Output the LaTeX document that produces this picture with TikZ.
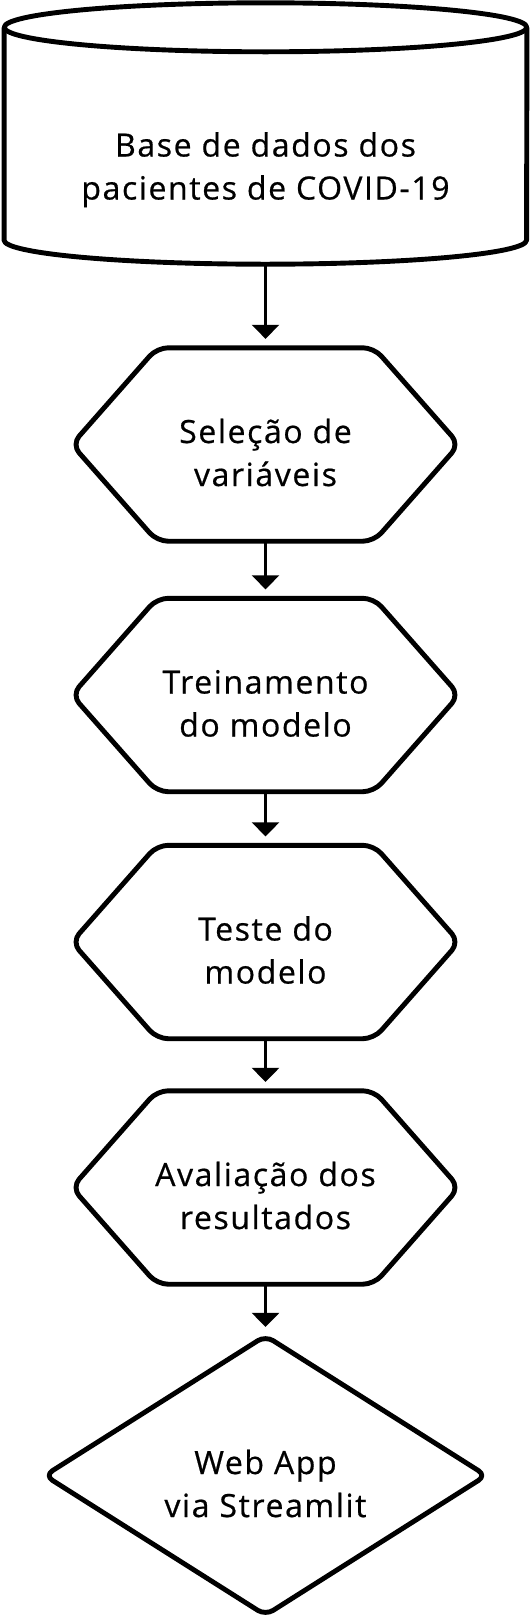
\documentclass[tikz,border=0pt]{standalone}
\usepackage{fontspec}
\setmainfont{Open Sans}[LetterSpace=5, FakeBold=0.6]
\usetikzlibrary{arrows.meta,calc}
\tikzset{
  txt/.style={draw=none, inner sep=0pt, align=center, text height=83pt, text depth=0pt,
    font=\fontsize{32}{43}\selectfont},
  outline/.style={line width=4.9pt, line join=round},
  flow/.style={line width=3.8pt, -{Triangle[width=27pt,length=14pt]}, shorten >=9pt},
}
\begin{document}
\begin{tikzpicture}[x=1pt,y=1pt]
\fill[white] (0,0) rectangle (531,-1617);
\useasboundingbox (0,0) rectangle (531,-1617);

% database cylinder
\node[txt, minimum width=522.5pt, minimum height=212pt] (db) at (265.5,-158) {Base de dados dos\\pacientes de COVID-19};
\draw[outline] ([yshift=24.5]db.north west) -- ([yshift=24]db.south west)
  arc[start angle=180, end angle=360, x radius=261.25, y radius=24]
  -- ([yshift=24.5]db.north east);
\draw[outline] ([yshift=24.5]db.north) ellipse[x radius=261.25, y radius=24.5];

% hexagons
\node[txt, minimum width=387pt, minimum height=193pt] (h1) at (265.5,-444.5) {Seleção de\\variáveis};
\node[txt, minimum width=387pt, minimum height=193pt] (h2) at (265.5,-695) {Treinamento\\do modelo};
\node[txt, minimum width=387pt, minimum height=193pt] (h3) at (265.5,-942) {Teste do\\modelo};
\node[txt, minimum width=387pt, minimum height=193pt] (h4) at (265.5,-1187.5) {Avaliação dos\\resultados};
\foreach \n in {h1,h2,h3,h4}{
  \draw[outline, rounded corners=11pt] (\n.north) -- ([xshift=108.5]\n.north) -- (\n.east)
    -- ([xshift=108.5]\n.south) -- ([xshift=-108.5]\n.south) -- (\n.west)
    -- ([xshift=-108.5]\n.north) -- cycle;
}

% diamond
\node[txt, minimum width=441pt, minimum height=279pt] (app) at (265.5,-1475.5) {Web App\\via Streamlit};
\draw[outline, rounded corners=9pt] ($(app.north)!0.5!(app.east)$) -- (app.east) -- (app.south) -- (app.west) -- (app.north) -- cycle;

% connectors
\draw[flow] (db.south) -- (h1.north);
\draw[flow] (h1.south) -- (h2.north);
\draw[flow] (h2.south) -- (h3.north);
\draw[flow] (h3.south) -- (h4.north);
\draw[flow] (h4.south) -- (app.north);
\end{tikzpicture}
\end{document}
